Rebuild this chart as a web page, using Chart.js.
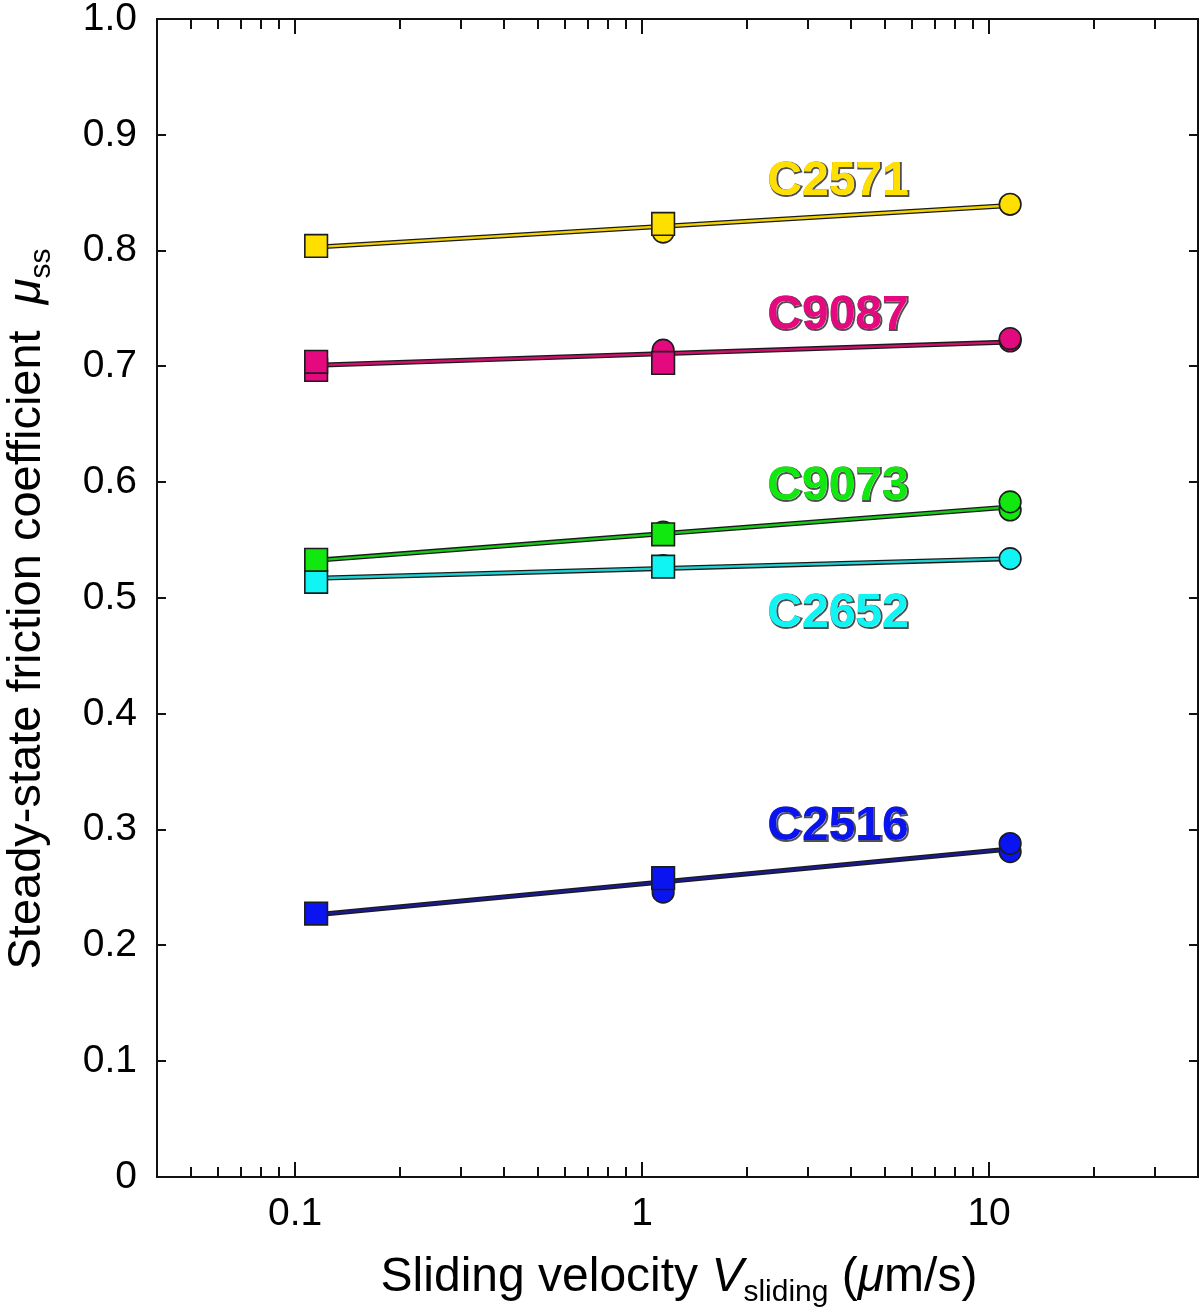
<!DOCTYPE html>
<html>
<head>
<meta charset="utf-8">
<script src="https://cdn.jsdelivr.net/npm/chart.js@4.4.1/dist/chart.umd.min.js"></script>
<style>
  html, body { margin: 0; padding: 0; background: #fff; overflow: hidden; }
  #wrap { width: 1200px; height: 1308px; }
  canvas { display: block; }
</style>
</head>
<body>
<div id="wrap"><canvas id="frictionChart" width="1200" height="1308" style="width:1200px;height:1308px"></canvas></div>
<script>
// sliding velocity (um/s) of each step
const velLow = 0.115;
const velMid = 1.15;
const velHigh = 11.5;

const samples = ["C2571", "C9087", "C9073", "C2652", "C2516"];
const fillColors = ["#FFDF00", "#E5097F", "#10E810", "#10F4F4", "#0A14F0"];
const lineColors = ["#F2D200", "#D0106F", "#18C818", "#20D0D0", "#1A1A90"];

// circle markers (one run type)
const circleVel = [
  [velMid, velHigh],
  [velMid, velMid, velHigh, velHigh],
  [velMid, velHigh, velHigh],
  [velMid, velHigh],
  [velMid, velHigh, velHigh]
];
const circleMu = [
  [0.816, 0.840],
  [0.711, 0.714, 0.722, 0.724],
  [0.557, 0.576, 0.583],
  [0.528, 0.534],
  [0.246, 0.281, 0.288]
];

// square markers (other run type)
const squareVel = [
  [velLow, velMid],
  [velLow, velLow, velMid],
  [velLow, velMid],
  [velLow, velMid],
  [velLow, velMid]
];
const squareMu = [
  [0.804, 0.823],
  [0.697, 0.704, 0.703],
  [0.533, 0.555],
  [0.514, 0.527],
  [0.2275, 0.258]
];

// fitted lines, end points
const fitVel = [velLow, velHigh];
const fitMu = [
  [0.803, 0.839],
  [0.701, 0.721],
  [0.5325, 0.5786],
  [0.517, 0.534],
  [0.2265, 0.2832]
];

// sample labels inside the plot
const labelVel = [3.67, 3.67, 3.67, 3.67, 3.67];
const labelMu = [0.863, 0.747, 0.599, 0.490, 0.306];

const xTickValues = [0.04, 0.05, 0.06, 0.07, 0.08, 0.09, 0.1, 0.2, 0.3, 0.4, 0.5, 0.6, 0.7, 0.8, 0.9,
  1, 2, 3, 4, 5, 6, 7, 8, 9, 10, 20, 30, 40];
const xMajorTicks = [0.1, 1, 10];

const FONT = "'Liberation Sans', Arial, Helvetica, sans-serif";

function toPoints(xs, ys) {
  return xs.map((x, i) => ({ x: x, y: ys[i] }));
}

const datasets = [];
samples.forEach((name, i) => {
  datasets.push({
    label: name + " fit outline",
    data: toPoints(fitVel, fitMu[i]),
    showLine: true,
    borderColor: "#1a1a1a",
    borderWidth: 5,
    pointRadius: 0,
    order: 4
  });
  datasets.push({
    label: name + " fit",
    data: toPoints(fitVel, fitMu[i]),
    showLine: true,
    borderColor: lineColors[i],
    borderWidth: 2.4,
    pointRadius: 0,
    order: 3
  });
  datasets.push({
    label: name + " circles",
    data: toPoints(circleVel[i], circleMu[i]),
    pointStyle: "circle",
    pointRadius: 10.8,
    backgroundColor: fillColors[i],
    borderColor: "#1c1c1c",
    borderWidth: 1.6,
    order: 2
  });
  datasets.push({
    label: name + " squares",
    data: toPoints(squareVel[i], squareMu[i]),
    pointStyle: "rect",
    pointRadius: 16,
    backgroundColor: fillColors[i],
    borderColor: "#1c1c1c",
    borderWidth: 1.6,
    order: 1
  });
});

function drawRich(ctx, parts, x, y, align) {
  // parts: [text, size, italic, sub]
  const widths = parts.map((p) => {
    ctx.font = (p[2] ? "italic " : "") + p[1] + "px " + FONT;
    return ctx.measureText(p[0]).width;
  });
  const total = widths.reduce((a, b) => a + b, 0);
  let cx = align === "center" ? x - total / 2 : x;
  parts.forEach((p, i) => {
    ctx.font = (p[2] ? "italic " : "") + p[1] + "px " + FONT;
    ctx.fillText(p[0], cx, y + (p[3] ? 10 : 0));
    cx += widths[i];
  });
}

const framePlugin = {
  id: "frame",
  afterDraw(chart) {
    const ctx = chart.ctx;
    const a = chart.chartArea;
    const xs = chart.scales.x;
    const ys = chart.scales.y;

    ctx.save();
    ctx.strokeStyle = "#111";
    ctx.lineWidth = 2;
    ctx.beginPath();
    xs.ticks.forEach((t) => {
      const px = Math.round(xs.getPixelForValue(t.value));
      const len = xMajorTicks.includes(t.value) ? 15 : 10;
      ctx.moveTo(px, a.bottom);
      ctx.lineTo(px, a.bottom - len);
      ctx.moveTo(px, a.top);
      ctx.lineTo(px, a.top + len);
    });
    ys.ticks.forEach((t) => {
      const py = Math.round(ys.getPixelForValue(t.value));
      ctx.moveTo(a.left, py);
      ctx.lineTo(a.left + 9, py);
      ctx.moveTo(a.right, py);
      ctx.lineTo(a.right - 9, py);
    });
    ctx.stroke();
    ctx.strokeRect(a.left, a.top, a.right - a.left, a.bottom - a.top);

    // sample labels
    ctx.font = "bold 48px " + FONT;
    ctx.textAlign = "center";
    ctx.textBaseline = "alphabetic";
    samples.forEach((name, i) => {
      const px = xs.getPixelForValue(labelVel[i]);
      const py = ys.getPixelForValue(labelMu[i]) + 17;
      ctx.lineWidth = 2;
      ctx.strokeStyle = "rgba(20,20,20,0.75)";
      ctx.strokeText(name, px + 1, py + 1);
      ctx.fillStyle = fillColors[i];
      ctx.fillText(name, px, py);
    });

    // axis titles
    ctx.fillStyle = "#000";
    ctx.textAlign = "left";
    drawRich(ctx, [
      ["Sliding velocity ", 48, false, false],
      ["V", 48, true, false],
      ["sliding", 30, false, true],
      [" (", 48, false, false],
      ["\u03bc", 48, true, false],
      ["m/s)", 48, false, false]
    ], 679, 1291, "center");

    ctx.translate(40, 609);
    ctx.rotate(-Math.PI / 2);
    drawRich(ctx, [
      ["Steady-state friction coefficient  ", 47, false, false],
      ["\u03bc", 47, true, false],
      ["ss", 30, false, true]
    ], 0, 0, "center");
    ctx.restore();
  }
};

new Chart(document.getElementById("frictionChart"), {
  type: "scatter",
  data: { datasets },
  options: {
    responsive: false,
    animation: false,
    events: [],
    layout: { autoPadding: false, padding: { top: 19, right: 2, left: 0, bottom: 0 } },
    plugins: {
      legend: { display: false },
      tooltip: { enabled: false }
    },
    scales: {
      x: {
        type: "logarithmic",
        min: 0.04,
        max: 40,
        afterFit: (s) => {
          s.height = 131;
          s.paddingLeft = 0;
          s.paddingRight = 0;
        },
        afterBuildTicks: (s) => {
          s.ticks = xTickValues.map((v) => ({ value: v, major: xMajorTicks.includes(v) }));
        },
        grid: { display: false, drawTicks: false },
        border: { display: false },
        ticks: {
          autoSkip: false,
          maxRotation: 0,
          padding: 14,
          color: "#000",
          font: { family: FONT, size: 39 },
          callback: (value) => (xMajorTicks.includes(value) ? String(value) : "")
        }
      },
      y: {
        min: 0,
        max: 1,
        afterFit: (s) => {
          s.width = 157;
          s.paddingTop = 0;
          s.paddingBottom = 0;
        },
        grid: { display: false, drawTicks: false },
        border: { display: false },
        ticks: {
          stepSize: 0.1,
          padding: 20,
          color: "#000",
          font: { family: FONT, size: 39 },
          callback: (value) => (value === 0 ? "0" : Number(value).toFixed(1))
        }
      }
    }
  },
  plugins: [framePlugin]
});
</script>
</body>
</html>
